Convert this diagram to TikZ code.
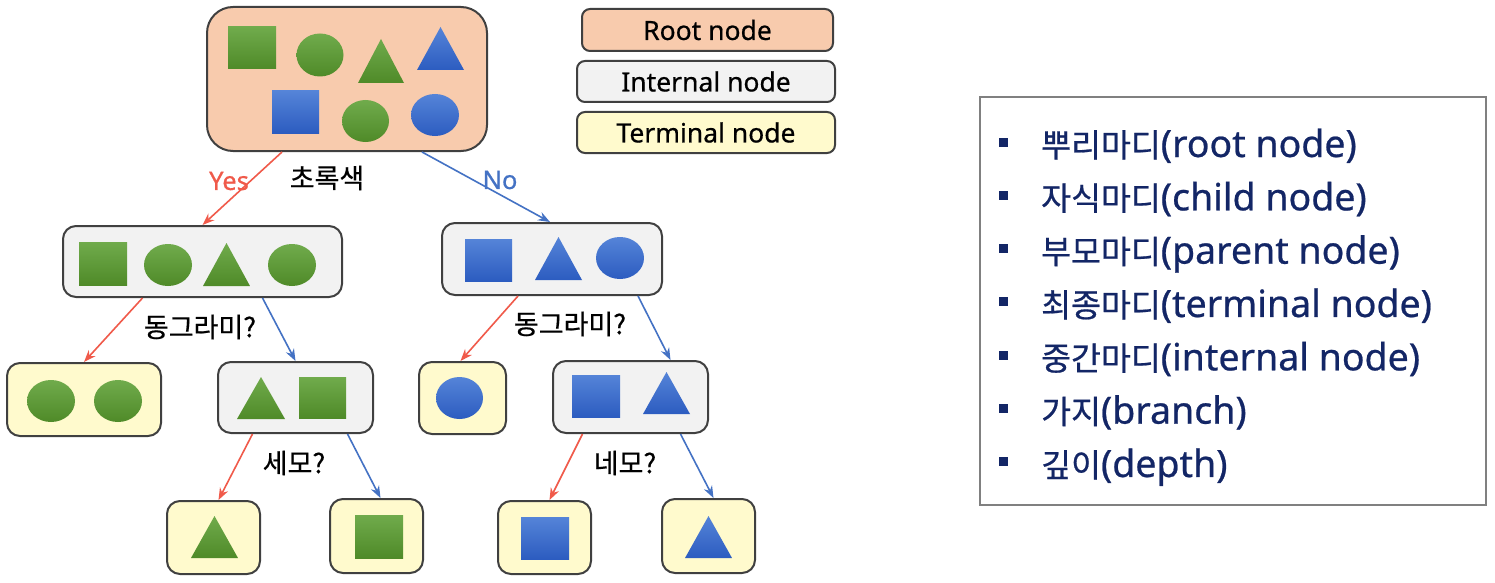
\documentclass[tikz,border=0pt]{standalone}
\usepackage{fontspec}
\setmainfont{Noto Sans}[FakeBold=0.6]
\newfontfamily\kr{Noto Sans CJK KR}[FakeBold=0.6]
\usetikzlibrary{arrows.meta,calc}
\definecolor{peach}{HTML}{F8CBAD}
\definecolor{intgray}{HTML}{F2F2F2}
\definecolor{termyellow}{HTML}{FFFACD}
\definecolor{boxline}{HTML}{404040}
\definecolor{gtop}{HTML}{70AB4C}
\definecolor{gbot}{HTML}{4F8A28}
\definecolor{btop}{HTML}{5584D8}
\definecolor{bbot}{HTML}{2C5CC0}
\definecolor{arrred}{HTML}{F05A4A}
\definecolor{arrblue}{HTML}{4472C4}
\definecolor{navy}{HTML}{132666}
\definecolor{graybox}{HTML}{808080}
\newcommand\mySq[5]{\path[#1] (#2,#3) rectangle (#4,#5);}
\newcommand\myTri[5]{\path[#1] (#2,#5) -- ({(#2+#3)/2},#4) -- (#3,#5) -- cycle;}
\newcommand\myEll[5]{\path[#1] (#2,#3) ellipse [x radius=#4pt, y radius=#5pt];}
\begin{document}
\begin{tikzpicture}[x=1pt,y=-1pt,
  box/.style={draw=boxline, line width=2pt, rounded corners=13pt, inner sep=0pt},
  rootbox/.style={box, fill=peach, rounded corners=26pt},
  intbox/.style={box, fill=intgray},
  termbox/.style={box, fill=termyellow},
  legbox/.style={box, rounded corners=8pt, minimum height=41pt, font=\fontsize{26.5}{26.5}\selectfont},
  gshape/.style={top color=gtop, bottom color=gbot},
  bshape/.style={top color=btop, bottom color=bbot},
  yesarrow/.style={draw=arrred, line width=1.6pt, -{Stealth[length=12pt,width=9pt]}},
  noarrow/.style={draw=arrblue, line width=1.6pt, -{Stealth[length=12pt,width=9pt]}},
  krlbl/.style={font=\kr\fontsize{27}{27}\selectfont, inner sep=0pt},
  enlbl/.style={font=\fontsize{25.5}{25.5}\selectfont, inner sep=0pt}
]
\useasboundingbox (0,0) rectangle (1495,583);
\fill[white] (0,0) rectangle (1495,583);

% ---- boxes ----
\node[rootbox, minimum width=280pt, minimum height=144pt] (root) at (347,79) {};
\node[intbox, minimum width=279pt, minimum height=71pt] (I1) at (202.5,261.5) {};
\node[intbox, minimum width=220pt, minimum height=72pt] (I2) at (552,259) {};
\node[termbox, minimum width=154pt, minimum height=73pt] (T1) at (84,399.5) {};
\node[intbox, minimum width=155pt, minimum height=71pt] (I3) at (295.5,397.5) {};
\node[termbox, minimum width=87pt, minimum height=72pt] (T2) at (462.5,398) {};
\node[intbox, minimum width=155pt, minimum height=72pt] (I4) at (630.5,397) {};
\node[termbox, minimum width=93pt, minimum height=73pt] (T3) at (213.5,537.5) {};
\node[termbox, minimum width=93pt, minimum height=74pt] (T4) at (376.5,536) {};
\node[termbox, minimum width=93pt, minimum height=73pt] (T5) at (544.5,537.5) {};
\node[termbox, minimum width=93pt, minimum height=74pt] (T6) at (708.5,536) {};

% ---- shapes in root ----
\mySq{gshape}{228}{27}{276}{69}
\myEll{gshape}{320}{55}{23.5}{21.5}
\myTri{gshape}{358}{404}{39}{83}
\myTri{bshape}{417}{464}{27}{70}
\mySq{bshape}{272}{91}{319}{133}
\myEll{gshape}{365.5}{121}{23.5}{21}
\myEll{bshape}{435}{115}{24}{21}
% I1
\mySq{gshape}{79}{242}{127}{285}
\myEll{gshape}{168}{265}{24}{21}
\myTri{gshape}{203}{250}{243}{286}
\myEll{gshape}{292}{265}{24}{21}
% I2
\mySq{bshape}{465}{239}{512}{281}
\myTri{bshape}{535}{582}{237}{280}
\myEll{bshape}{620}{258}{24}{21}
% T1
\myEll{gshape}{51}{401}{24}{21}
\myEll{gshape}{118}{401}{24}{21}
% I3
\myTri{gshape}{237}{285}{377}{419}
\mySq{gshape}{299}{377}{346}{418}
% T2
\myEll{bshape}{459.5}{398}{23.5}{21}
% I4
\mySq{bshape}{572}{375}{620}{417}
\myTri{bshape}{643}{690}{372}{414}
% bottom
\myTri{gshape}{191}{238}{516}{558}
\mySq{gshape}{355}{515}{403}{558}
\mySq{bshape}{521}{517}{569}{559}
\myTri{bshape}{685}{732}{516}{558}

% ---- connectors ----
\draw[yesarrow] ([xshift=-65pt]root.south) -- (I1.north);
\draw[noarrow]  ([xshift=75pt]root.south) -- ([xshift=-2pt]I2.north);
\draw[yesarrow] ([xshift=-60pt]I1.south) -- (T1.north);
\draw[noarrow]  ([xshift=60pt]I1.south) -- (I3.north);
\draw[yesarrow] ([xshift=-34pt]I2.south) -- ([xshift=-2pt]T2.north);
\draw[noarrow]  ([xshift=86pt]I2.south) -- ([xshift=40pt]I4.north);
\draw[yesarrow] ([xshift=-43pt]I3.south) -- ([xshift=5pt]T3.north);
\draw[noarrow]  ([xshift=52pt]I3.south) -- ([xshift=4pt]T4.north);
\draw[yesarrow] ([xshift=-48pt]I4.south) -- ([xshift=5pt]T5.north);
\draw[noarrow]  ([xshift=50pt]I4.south) -- ([xshift=5pt]T6.north);

% ---- labels ----
\node[enlbl, text=arrred] (yes) at (229,181) {Yes};
\node[krlbl] (q1) at (327,178) {초록색};
\node[enlbl, text=arrblue] (no) at (500,180) {No};
\node[krlbl] (q2) at (200,327) {동그라미?};
\node[krlbl] (q3) at (570,324) {동그라미?};
\node[krlbl] (q4) at (294,463) {세모?};
\node[krlbl] (q5) at (625,463) {네모?};

% ---- legend ----
\node[legbox, fill=peach, minimum width=251pt, minimum height=42pt] (lroot) at (707.5,30) {Root node};
\node[legbox, fill=intgray, minimum width=258pt] (lint) at (706,81.5) {Internal node};
\node[legbox, fill=termyellow, minimum width=258pt] (lterm) at (706,132.5) {Terminal node};

% ---- list box ----
\node[draw=graybox, line width=1.8pt, minimum width=506pt, minimum height=408pt] (listbox) at (1233,301) {};
\foreach \k/\e [count=\i] in {뿌리마디/(root node), 자식마디/(child node), 부모마디/(parent node), 최종마디/(terminal node), 중간마디/(internal node), 가지/(branch), 깊이/(depth)}{
  \pgfmathsetmacro\yy{142+53.33*(\i-1)}
  \node[fill=navy, minimum size=9pt, inner sep=0pt] (bul\i) at (1003.5,\yy) {};
  \node[anchor=base west, inner sep=0pt, text=navy, font=\fontsize{37.5}{37.5}\selectfont] (item\i) at (1041,\yy+15) {{\kr\fontsize{32.5}{32.5}\selectfont\k}\e};
}
\end{tikzpicture}
\end{document}
